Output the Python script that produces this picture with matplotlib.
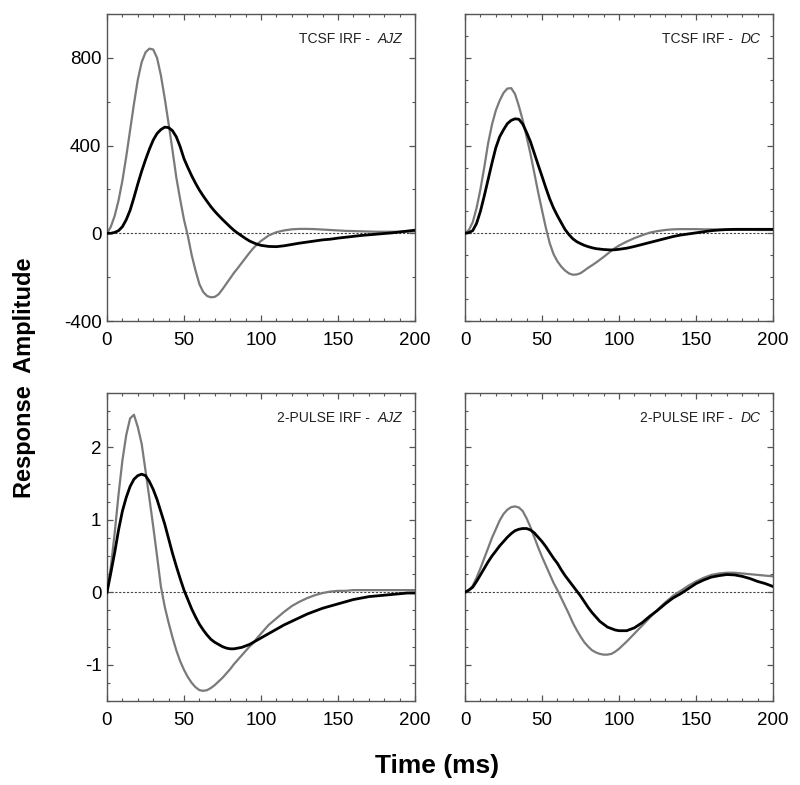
import numpy as np
import matplotlib
matplotlib.use("Agg")
import matplotlib.pyplot as plt
from matplotlib.ticker import MultipleLocator, NullFormatter

plt.rcParams['font.family'] = ['Liberation Sans', 'DejaVu Sans']
plt.rcParams['axes.unicode_minus'] = False

# time axis (ms): 2.5 ms steps up to 100, then 5 ms steps
t = [0, 2.5, 5, 7.5, 10, 12.5, 15, 17.5, 20, 22.5, 25, 27.5, 30, 32.5, 35, 37.5,
     40, 42.5, 45, 47.5, 50, 52.5, 55, 57.5, 60, 62.5, 65, 67.5, 70, 72.5, 75, 77.5,
     80, 82.5, 85, 87.5, 90, 92.5, 95, 97.5, 100,
     105, 110, 115, 120, 125, 130, 135, 140, 145, 150, 155, 160, 165, 170, 175, 180,
     185, 190, 195, 200]

# TCSF IRF - AJZ
tcsf_ajz_gray = [0, 30, 80, 150, 240, 350, 470, 590, 700, 780, 825, 842, 838, 800, 720, 615,
                 500, 380, 255, 155, 62, -12, -100, -170, -232, -268, -286, -292, -290, -278,
                 -255, -230, -205, -180, -158, -135, -112, -89, -68, -50, -35,
                 -10, 5, 13, 18, 20, 20, 19, 17, 15, 13, 11, 10, 9, 8, 7, 7, 7, 7, 8, 8]
tcsf_ajz_black = [0, 0, 4, 12, 30, 62, 105, 163, 225, 283, 335, 383, 425, 455, 473, 484,
                  482, 468, 440, 395, 340, 300, 262, 228, 197, 170, 145, 121, 100, 81, 63,
                  46, 29, 13, 0, -12, -24, -35, -43, -50, -55,
                  -60, -61, -57, -51, -45, -40, -35, -30, -27, -22, -18, -14, -10, -7, -4,
                  -1, 2, 6, 10, 14]

# TCSF IRF - DC
tcsf_dc_gray = [0, 15, 50, 115, 200, 300, 410, 495, 560, 605, 640, 660, 662, 635, 580, 515,
                440, 362, 275, 187, 105, 25, -45, -95, -128, -152, -170, -183, -189, -188,
                -182, -170, -157, -146, -134, -121, -108, -94, -80, -67, -56,
                -38, -22, -9, 3, 10, 15, 18, 19, 19, 19, 18, 18, 17, 17, 16, 16, 16, 15,
                15, 15]
tcsf_dc_black = [0, 3, 12, 45, 100, 170, 245, 320, 390, 440, 472, 500, 515, 522, 520, 498,
                 460, 418, 365, 312, 260, 207, 157, 115, 80, 48, 17, -6, -25, -38, -47, -55,
                 -61, -66, -70, -72, -74, -75, -76, -75, -73,
                 -68, -60, -51, -42, -33, -24, -15, -8, -3, 2, 7, 12, 15, 17, 18, 18, 18, 18,
                 18, 18]

# 2-PULSE IRF - AJZ
pulse_ajz_gray = [0, 0.35, 0.82, 1.35, 1.82, 2.17, 2.40, 2.45, 2.28, 2.05, 1.68, 1.30, 0.91,
                  0.50, 0.08, -0.20, -0.42, -0.62, -0.80, -0.95, -1.07, -1.17, -1.25, -1.31,
                  -1.35, -1.36, -1.35, -1.32, -1.28, -1.23, -1.18, -1.12, -1.06, -0.99, -0.93,
                  -0.87, -0.81, -0.75, -0.70, -0.63, -0.57,
                  -0.45, -0.36, -0.27, -0.19, -0.13, -0.08, -0.04, -0.01, 0.01, 0.02, 0.02,
                  0.03, 0.03, 0.03, 0.03, 0.03, 0.03, 0.03, 0.03, 0.03]
pulse_ajz_black = [0, 0.27, 0.55, 0.86, 1.12, 1.31, 1.46, 1.56, 1.61, 1.63, 1.61, 1.53, 1.42,
                   1.28, 1.11, 0.94, 0.74, 0.54, 0.36, 0.19, 0.03, -0.10, -0.23, -0.34, -0.44,
                   -0.52, -0.59, -0.65, -0.69, -0.72, -0.75, -0.77, -0.78, -0.78, -0.77, -0.76,
                   -0.74, -0.72, -0.69, -0.66, -0.63,
                   -0.57, -0.51, -0.45, -0.40, -0.35, -0.30, -0.26, -0.22, -0.19, -0.16, -0.13,
                   -0.10, -0.08, -0.06, -0.05, -0.04, -0.03, -0.02, -0.01, -0.01]

# 2-PULSE IRF - DC
pulse_dc_gray = [0, 0.03, 0.09, 0.20, 0.33, 0.47, 0.61, 0.75, 0.87, 0.99, 1.08, 1.14, 1.175,
                 1.185, 1.17, 1.12, 1.02, 0.90, 0.76, 0.62, 0.49, 0.37, 0.25, 0.13, 0.03,
                 -0.08, -0.19, -0.30, -0.42, -0.52, -0.61, -0.69, -0.75, -0.80, -0.83, -0.85,
                 -0.86, -0.86, -0.85, -0.82, -0.78,
                 -0.68, -0.57, -0.46, -0.35, -0.24, -0.14, -0.05, 0.02, 0.09, 0.15, 0.20,
                 0.24, 0.26, 0.27, 0.27, 0.26, 0.25, 0.24, 0.23, 0.22]
pulse_dc_black = [0, 0.03, 0.07, 0.15, 0.24, 0.33, 0.42, 0.50, 0.57, 0.64, 0.70, 0.76, 0.81,
                  0.85, 0.87, 0.88, 0.88, 0.86, 0.82, 0.76, 0.70, 0.63, 0.55, 0.47, 0.40,
                  0.31, 0.23, 0.16, 0.09, 0.02, -0.05, -0.13, -0.21, -0.28, -0.34, -0.40,
                  -0.44, -0.48, -0.50, -0.52, -0.53,
                  -0.53, -0.49, -0.42, -0.33, -0.25, -0.16, -0.08, -0.02, 0.05, 0.12, 0.17,
                  0.21, 0.23, 0.245, 0.24, 0.22, 0.19, 0.15, 0.12, 0.08]

panel_names = ['TCSF IRF -  ', 'TCSF IRF -  ', '2-PULSE IRF -  ', '2-PULSE IRF -  ']
observers = ['AJZ', 'DC', 'AJZ', 'DC']

fig = plt.figure(figsize=(8, 7.85), dpi=100)
W, H = 800, 785
boxes = [(107, 14, 308, 307), (465, 14, 308, 307), (107, 393, 308, 308), (465, 393, 308, 308)]
series = [(tcsf_ajz_gray, tcsf_ajz_black), (tcsf_dc_gray, tcsf_dc_black),
          (pulse_ajz_gray, pulse_ajz_black), (pulse_dc_gray, pulse_dc_black)]

renderer = fig.canvas.get_renderer()

for i, (box, (g, b)) in enumerate(zip(boxes, series)):
    x0, y0, w, h = box
    ax = fig.add_axes([x0 / W, 1 - (y0 + h) / H, w / W, h / H])
    ax.axhline(0, color='#444444', lw=0.8, ls=(0, (2, 1.5)), zorder=1)
    ax.plot(t, g, color='#7a7a7a', lw=1.6, zorder=2)
    ax.plot(t, b, color='black', lw=2.0, zorder=3)
    ax.set_xlim(0, 200)
    ax.xaxis.set_major_locator(MultipleLocator(50))
    ax.xaxis.set_minor_locator(MultipleLocator(10))
    if i < 2:
        ax.set_ylim(-400, 1000)
        ax.yaxis.set_major_locator(MultipleLocator(400))
        ax.yaxis.set_minor_locator(MultipleLocator(200 if i == 0 else 100))
    else:
        ax.set_ylim(-1.5, 2.75)
        ax.yaxis.set_major_locator(MultipleLocator(1))
        ax.yaxis.set_minor_locator(MultipleLocator(0.25))
    if i % 2 == 1:
        ax.yaxis.set_major_formatter(NullFormatter())
    ax.tick_params(which='both', direction='in', top=True, right=True,
                   color='#555555', labelsize=13.5)
    ax.tick_params(axis='x', which='major', pad=8)
    ax.tick_params(axis='y', which='major', pad=4)
    ax.tick_params(which='major', length=4, width=0.9)
    ax.tick_params(which='minor', length=2.5, width=0.8)
    for sp in ax.spines.values():
        sp.set_color('#555555')
        sp.set_linewidth(1.0)
    # panel label: plain name followed by italic observer initials, right-aligned
    obs = ax.text(0.96, 0.92, observers[i], transform=ax.transAxes, ha='right', va='center',
                  fontsize=10, style='italic', color='#222222')
    obs_w = obs.get_window_extent(renderer).width / w
    ax.text(0.96 - obs_w, 0.92, panel_names[i], transform=ax.transAxes, ha='right',
            va='center', fontsize=10, color='#222222')

fig.text(437 / W, 1 - 766 / H, 'Time (ms)', ha='center', va='center',
         fontsize=19, fontweight='bold')
fig.text(25 / W, 1 - 378 / H, 'Response  Amplitude', ha='center', va='center',
         rotation=90, fontsize=17, fontweight='bold')

fig.savefig('out.png', dpi=100)
